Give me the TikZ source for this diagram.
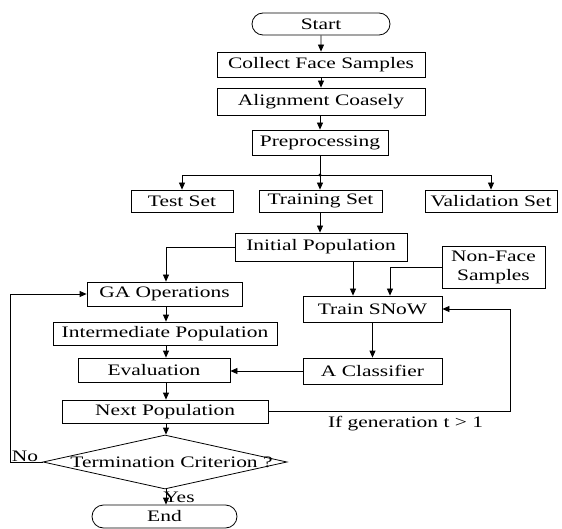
\documentclass[tikz,border=0pt]{standalone}
\usepackage{fontspec}
\setmainfont{Liberation Serif}[FakeStretch=1.34]
\usetikzlibrary{arrows.meta,shapes.geometric,shapes.misc}

\begin{document}
\begin{tikzpicture}[x=1pt,y=-1pt,
  every node/.style={font=\fontsize{16}{19}\selectfont},
  box/.style={draw,line width=0.8pt,inner sep=0pt},
  pill/.style={draw,line width=0.8pt,rounded rectangle,inner sep=0pt},
  link/.style={line width=0.8pt,-{Triangle[length=7pt,width=6pt]}},
  wire/.style={line width=0.8pt}]
  \useasboundingbox (0,0) rectangle (562,529);
  \clip (0,0) rectangle (562,529);

  % upper column
  \node[pill,minimum width=138pt,minimum height=22pt] (start) at (321,24) {Start};
  \node[box,minimum width=208pt,minimum height=25pt] (collect) at (321,64.5) {Collect Face Samples};
  \node[box,minimum width=208pt,minimum height=27pt] (align) at (321,101.5) {Alignment Coasely};
  \node[box,minimum width=136pt,minimum height=25pt] (prep) at (320,142.5) {Preprocessing};
  \node[box,minimum width=102pt,minimum height=22pt] (test) at (182,201) {Test Set};
  \node[box,minimum width=123pt,minimum height=22pt] (train) at (320.5,201) {Training Set};
  \node[box,minimum width=132pt,minimum height=22pt] (valid) at (491,201) {Validation Set};
  \node[box,minimum width=172pt,minimum height=28pt] (initpop) at (321,247) {Initial Population};

  % GA column
  \node[box,minimum width=155pt,minimum height=24pt] (gaops) at (164.5,294) {GA Operations};
  \node[box,minimum width=224pt,minimum height=23pt] (interpop) at (165,333.5) {Intermediate Population};
  \node[box,minimum width=152pt,minimum height=24pt] (eval) at (154,370) {Evaluation};
  \node[box,minimum width=206pt,minimum height=23pt] (nextpop) at (165,411.5) {Next Population};
  \node[diamond,draw,line width=0.8pt,inner sep=0pt,minimum width=244pt,minimum height=54pt] (term) at (165,462) {};
  \node (termtext) at (171.5,462) {Termination Criterion ?};
  \node[pill,minimum width=145pt,minimum height=23pt] (end) at (164.5,516.5) {End};

  % SNoW column
  \node[box,minimum width=103pt,minimum height=42pt,align=center] (nonface) at (493.5,267) {Non-Face\\Samples};
  \node[box,minimum width=139pt,minimum height=26pt] (snow) at (372.5,309) {Train SNoW};
  \node[box,minimum width=139pt,minimum height=26pt] (classifier) at (372.5,371) {A Classifier};

  \coordinate (colga) at (166,0);
  \coordinate (colsn) at (353,0);
  \coordinate (colnf) at (390,0);
  \coordinate (split) at (320,175);
  \coordinate (loopr) at (510,0);
  \coordinate (loopl) at (10,0);

  % connectors
  \draw[link] (start) -- (collect);
  \draw[link] (collect) -- (align);
  \draw[link] (align.south -| prep) -- (prep);
  \draw[wire] (prep) -- (split);
  \fill (split) circle (1.6pt);
  \draw[link] (split) -| (test.north);
  \draw[link] (split) -- (train.north -| split);
  \draw[link] (split) -| (valid.north);
  \draw[link] (train.south -| split) -- (initpop.north -| split);
  \draw[link] (initpop.west) -| (gaops.north -| colga);
  \draw[link] (initpop.south -| colsn) -- (snow.north -| colsn);
  \draw[link] (nonface.west) -| (snow.north -| colnf);
  \draw[link] (snow) -- (classifier);
  \draw[link] (classifier.west) -- (classifier.west -| eval.east);
  \draw[link] (gaops.south -| colga) -- (interpop.north -| colga);
  \draw[link] (interpop.south -| colga) -- (eval.north -| colga);
  \draw[link] (eval.south -| colga) -- (nextpop.north -| colga);
  \draw[link] (nextpop.south -| colga) -- (term.north -| colga);
  \draw[link] (term.south -| colga) -- (end.north -| colga);
  \draw[link] (nextpop.east) -| (loopr |- snow.east) -- (snow.east);
  \draw[link] (term.west) -| (loopl |- gaops.west) -- (gaops.west);

  \node (gen) at (405.5,424) {If generation t > 1};
  \node (no) at (25,456) {No};
  \node (yes) at (179,497) {Yes};
\end{tikzpicture}
\end{document}
